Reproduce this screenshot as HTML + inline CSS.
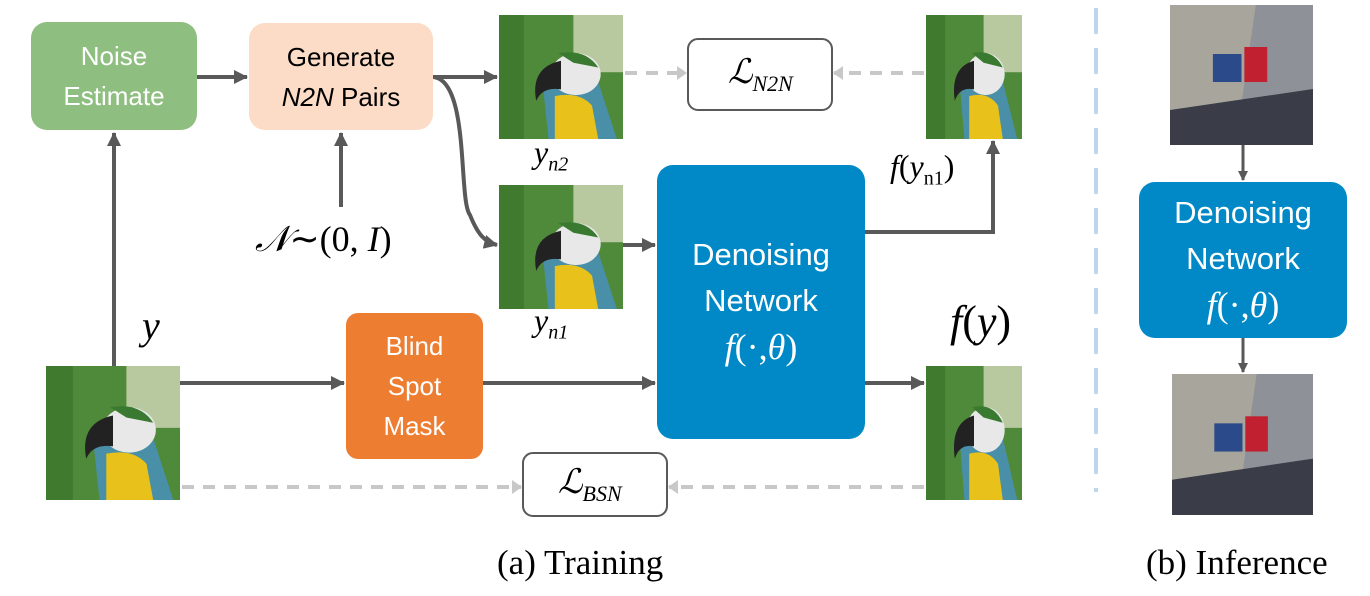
<!DOCTYPE html>
<html><head><style>
body{margin:0;background:#fff;width:1370px;height:596px;overflow:hidden;position:relative;font-family:"Liberation Sans",sans-serif}
.b{position:absolute;border-radius:16px;display:flex;align-items:center;justify-content:center;text-align:center;font-size:26px;line-height:40px}
.m{font-family:"Liberation Serif",serif;font-style:italic;position:absolute;color:#000}
.s{font-family:"Liberation Serif",serif;font-size:36px}
</style></head><body>
<svg width="1370" height="596" style="position:absolute;left:0;top:0">
<defs>
<marker id="a" markerWidth="10" markerHeight="10" refX="9" refY="5" orient="auto" markerUnits="userSpaceOnUse"><path d="M0,0L10,5L0,10z" fill="#595959"/></marker>
<marker id="g" markerWidth="10" markerHeight="14" refX="9" refY="7" orient="auto" markerUnits="userSpaceOnUse"><path d="M0,0L10,7L0,14z" fill="#c8c8c8"/></marker>
<marker id="k" markerWidth="14" markerHeight="14" refX="13" refY="7" orient="auto" markerUnits="userSpaceOnUse"><path d="M0,0L14,7L0,14z" fill="#595959"/></marker>
<symbol id="p" viewBox="0 0 100 130" preserveAspectRatio="none">
<rect width="100" height="130" fill="#4f8a3a"/>
<rect x="60" y="0" width="40" height="60" fill="#b8c9a0"/>
<rect x="0" y="0" width="20" height="130" fill="#3f7a2e"/>
<path d="M35,70 Q60,55 80,70 L95,130 L40,130z" fill="#4a8fa8"/>
<path d="M45,85 Q65,80 75,95 L80,130 L45,130z" fill="#e8c21a"/>
<ellipse cx="62" cy="62" rx="20" ry="22" fill="#e8e8e8"/>
<path d="M48,40 Q70,35 80,55 L60,50z" fill="#3a7a30"/>
<path d="M50,48 Q25,55 30,90 Q35,75 50,78z" fill="#222"/>
</symbol>
<symbol id="s" viewBox="0 0 100 100" preserveAspectRatio="none">
<rect width="100" height="100" fill="#8e9298"/>
<path d="M0,0L60,0L50,70L0,90z" fill="#a8a69c"/>
<path d="M0,75L100,60L100,100L0,100z" fill="#3a3d48"/>
<rect x="30" y="35" width="20" height="20" fill="#2a4a8a"/>
<rect x="52" y="30" width="16" height="25" fill="#c02030"/>
</symbol>
</defs>
<use href="#p" x="499" y="15" width="124" height="124"/>
<use href="#p" x="499" y="185" width="124" height="124"/>
<use href="#p" x="926" y="15" width="96" height="124"/>
<use href="#p" x="926" y="366" width="96" height="134"/>
<use href="#p" x="46" y="366" width="134" height="134"/>
<use href="#s" x="1170" y="5" width="143" height="140"/>
<use href="#s" x="1172" y="374" width="141" height="141"/>
<g stroke="#595959" stroke-width="4" fill="none">
<line x1="197" y1="77" x2="247" y2="77" marker-end="url(#k)"/>
<line x1="433" y1="77" x2="497" y2="77" marker-end="url(#k)"/>
<path d="M433,77 C470,80 458,200 470,215 C478,235 485,242 497,245" marker-end="url(#k)"/>
<line x1="341" y1="207" x2="341" y2="133" marker-end="url(#k)"/>
<line x1="114" y1="366" x2="114" y2="133" marker-end="url(#k)"/>
<line x1="623" y1="245" x2="655" y2="245" marker-end="url(#k)"/>
<polyline points="865,232 993,232 993,141" marker-end="url(#k)"/>
<line x1="180" y1="383" x2="344" y2="383" marker-end="url(#k)"/>
<line x1="483" y1="383" x2="655" y2="383" marker-end="url(#k)"/>
<line x1="865" y1="383" x2="924" y2="383" marker-end="url(#k)"/>
<line x1="1243" y1="145" x2="1243" y2="180" stroke-width="3" marker-end="url(#a)"/>
<line x1="1243" y1="338" x2="1243" y2="372" stroke-width="3" marker-end="url(#a)"/>
</g>
<g stroke="#c8c8c8" stroke-width="4" fill="none" stroke-dasharray="12,9">
<line x1="625" y1="73" x2="686" y2="73" marker-end="url(#g)"/>
<line x1="924" y1="73" x2="834" y2="73" marker-end="url(#g)"/>
<line x1="182" y1="487" x2="521" y2="487" marker-end="url(#g)"/>
<line x1="924" y1="487" x2="669" y2="487" marker-end="url(#g)"/>
</g>
<line x1="1096" y1="8" x2="1096" y2="492" stroke="#bdd7ee" stroke-width="4" stroke-dasharray="26,14"/>
<rect x="688" y="39" width="144" height="71" rx="10" fill="#fff" stroke="#595959" stroke-width="2"/>
<rect x="523" y="453" width="144" height="63" rx="10" fill="#fff" stroke="#595959" stroke-width="2"/>
</svg>
<div class="b" style="left:31px;top:22px;width:166px;height:108px;background:#8fbf80;color:#fff"><div>Noise<br>Estimate</div></div>
<div class="b" style="left:249px;top:23px;width:184px;height:107px;background:#fcdcc6;color:#000"><div>Generate<br><i>N2N</i> Pairs</div></div>
<div class="b" style="left:346px;top:313px;width:137px;height:146px;background:#ed7d31;color:#fff;border-radius:12px"><div>Blind<br>Spot<br>Mask</div></div>
<div class="b" style="left:657px;top:165px;width:208px;height:274px;background:#0089c6;color:#fff;font-size:31px;line-height:46px"><div>Denoising<br>Network<br><span class="s"><i>f</i>(·,<i>θ</i>)</span></div></div>
<div class="b" style="left:1139px;top:182px;width:208px;height:156px;background:#0089c6;color:#fff;font-size:31px;line-height:46px"><div>Denoising<br>Network<br><span class="s"><i>f</i>(·,<i>θ</i>)</span></div></div>
<div class="m" style="left:728px;top:52px;font-size:34px">ℒ<sub style="font-size:22px">N2N</sub></div>
<div class="m" style="left:558px;top:462px;font-size:34px">ℒ<sub style="font-size:22px">BSN</sub></div>
<div class="m" style="left:534px;top:134px;font-size:32px">y<sub style="font-size:20px">n2</sub></div>
<div class="m" style="left:534px;top:302px;font-size:32px">y<sub style="font-size:20px">n1</sub></div>
<div class="m" style="left:890px;top:148px;font-size:32px">f<span style="font-style:normal">(</span>y<sub style="font-size:20px;font-style:normal">n1</sub><span style="font-style:normal">)</span></div>
<div class="m" style="left:255px;top:218px;font-size:36px">𝒩<span style="font-style:normal">∼(0,</span> I<span style="font-style:normal">)</span></div>
<div class="m" style="left:142px;top:302px;font-size:40px">y</div>
<div class="m" style="left:950px;top:296px;font-size:44px">f<span style="font-style:normal">(</span>y<span style="font-style:normal">)</span></div>
<div style="position:absolute;left:497px;top:543px;font-family:'Liberation Serif',serif;font-size:35px">(a) Training</div>
<div style="position:absolute;left:1146px;top:543px;font-family:'Liberation Serif',serif;font-size:35px">(b) Inference</div>
</body></html>
